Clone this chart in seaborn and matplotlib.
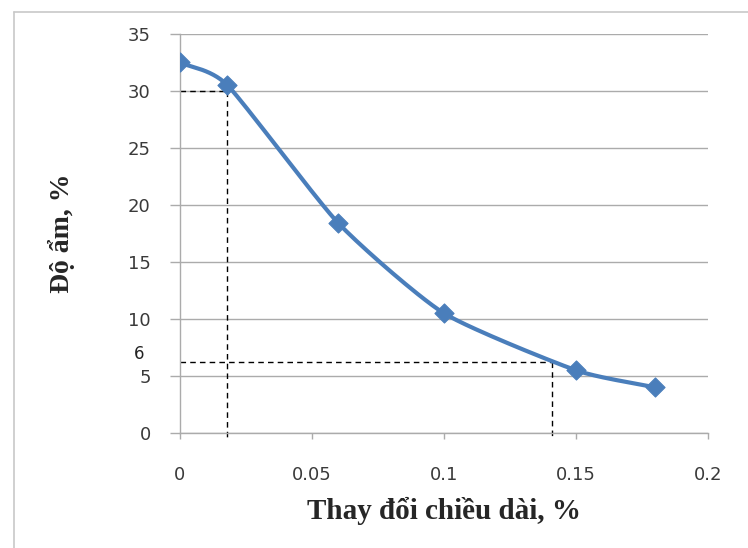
import numpy as np
import pandas as pd
import matplotlib
matplotlib.use("Agg")
import matplotlib.pyplot as plt
from matplotlib.lines import Line2D
import seaborn as sns

# values
length_change = [0.0, 0.018, 0.06, 0.10, 0.15, 0.18]
moisture = [32.5, 30.5, 18.4, 10.5, 5.5, 4.0]

x_ticks = [0, 0.05, 0.1, 0.15, 0.2]
x_tick_labels = ["0", "0.05", "0.1", "0.15", "0.2"]
y_ticks = [0, 5, 10, 15, 20, 25, 30, 35]

# dashed guide lines (reading two points off the curve)
guide_a = (0.018, 30.0)
guide_b = (0.141, 6.2)

x_label = "Thay đổi chiều dài, %"
y_label = "Độ ẩm, %"


def smooth(xs, ys, n=30, k=0.1):
    # bezier-style smoothed line through the points (like a spreadsheet chart)
    pts = np.column_stack([xs, ys]).astype(float)
    pad = np.vstack([2 * pts[0] - pts[1], pts, 2 * pts[-1] - pts[-2]])
    t = np.linspace(0, 1, n)[:, None]
    out = []
    for i in range(1, len(pad) - 2):
        p0, p1, p2, p3 = pad[i - 1], pad[i], pad[i + 1], pad[i + 2]
        c1 = p1 + (p2 - p0) * k
        c2 = p2 - (p3 - p1) * k
        seg = ((1 - t) ** 3 * p1 + 3 * (1 - t) ** 2 * t * c1
               + 3 * (1 - t) * t ** 2 * c2 + t ** 3 * p2)
        out.append(seg)
    out = np.vstack(out)
    return out[:, 0], out[:, 1]


sns.set_style("white")
plt.rcParams["font.family"] = ["DejaVu Sans"]

fig = plt.figure(figsize=(7.48, 5.48), dpi=100)
ax = fig.add_axes([0.2406, 0.2099, 0.7059, 0.7281])

blue = "#4a7ebb"
cx, cy = smooth(length_change, moisture)
curve = pd.DataFrame({"x": cx, "y": cy})
pts = pd.DataFrame({"x": length_change, "y": moisture})
sns.lineplot(data=curve, x="x", y="y", ax=ax, color=blue, linewidth=3,
             sort=False, estimator=None, zorder=3)
sns.scatterplot(data=pts, x="x", y="y", ax=ax, color=blue, marker="D",
                s=95, edgecolor=blue, zorder=4)

# dashed guides
for gx, gy in (guide_a, guide_b):
    ax.plot([0, gx], [gy, gy], ls=(0, (4, 3)), color="black", lw=1.0, zorder=2)
    ax.add_line(Line2D([gx, gx], [gy, -0.35], ls=(0, (4, 3)), color="black",
                       lw=1.0, zorder=2, clip_on=False))
ax.text(-0.0155, 6.9, "6", ha="center", va="center", fontsize=12,
        color="#222222", clip_on=False)

ax.set_xlim(0, 0.2)
ax.set_ylim(0, 35)
ax.set_xticks(x_ticks)
ax.set_xticklabels(x_tick_labels)
ax.set_yticks(y_ticks)
ax.yaxis.grid(True, color="#ababab", linewidth=1)
ax.xaxis.grid(False)
for side in ("top", "right"):
    ax.spines[side].set_visible(False)
for side in ("left", "bottom"):
    ax.spines[side].set_color("#ababab")
    ax.spines[side].set_linewidth(1)
ax.tick_params(axis="x", which="major", direction="out", length=4, width=1,
               color="#ababab", pad=20, labelsize=13, labelcolor="#3a3a3a",
               bottom=True)
ax.tick_params(axis="y", which="major", direction="out", length=7, width=1,
               color="#ababab", pad=14, labelsize=13, labelcolor="#3a3a3a",
               left=True)

serif = ["Liberation Serif", "DejaVu Serif"]
ax.set_xlabel(x_label, fontsize=21, fontweight="bold", family=serif,
              va="center")
ax.xaxis.set_label_coords(0.5, -0.195)
ax.set_ylabel(y_label, fontsize=20, fontweight="bold", family=serif,
              va="center")
ax.yaxis.set_label_coords(-0.2235, 0.5)

# light frame of the chart area (top and left edges)
fig.add_artist(Line2D([0.0187, 1.0], [0.978, 0.978], color="#c8c8c8", lw=1.2))
fig.add_artist(Line2D([0.0187, 0.0187], [0.0, 0.978], color="#c8c8c8", lw=1.2))

fig.savefig("out.png", dpi=100)
